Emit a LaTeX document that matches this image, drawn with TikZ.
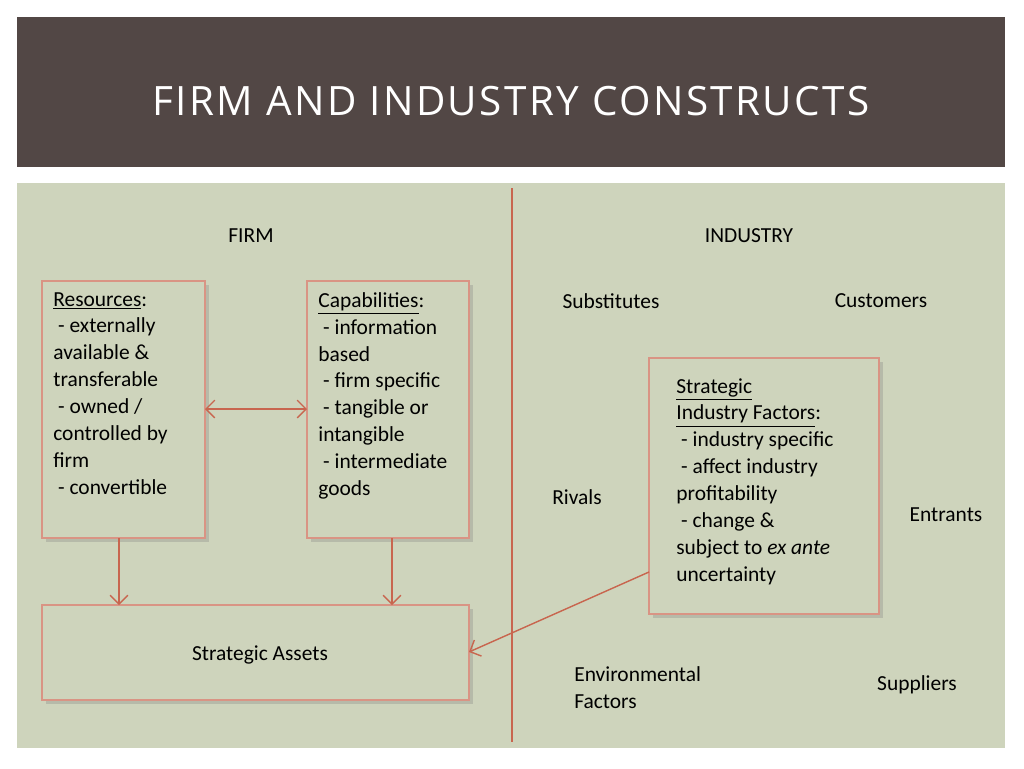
\documentclass[tikz,border=0pt]{standalone}
\usepackage{fontspec}
\setmainfont{Carlito}
\newfontfamily\titlefont{Open Sans}
\usetikzlibrary{arrows.meta,shadows}
\definecolor{headbrown}{HTML}{524745}
\definecolor{panel}{HTML}{CED4BC}
\definecolor{rust}{HTML}{C8664F}
\tikzset{
  fbox/.style={draw=rust!70, fill=panel, thick, drop shadow={opacity=0.3,shadow xshift=2pt,shadow yshift=-2pt}},
  btext/.style={anchor=north west, align=left, inner sep=0pt, font=\fontsize{12.2}{15.3}\selectfont},
  conn/.style={draw=rust, thick, -{Straight Barb[length=5pt]}}
}
\begin{document}
\begin{tikzpicture}[x=0.02cm, y=-0.02cm]
  \useasboundingbox (0,0) rectangle (1024,768);
  \fill[white] (0,0) rectangle (1024,768);
  % header and panel
  \fill[headbrown] (17,17) rectangle (1005,167);
  \node[text=white, font=\titlefont\fontsize{23}{26}\selectfont] (title) at (511,101) {\addfontfeature{LetterSpace=6}FIRM AND INDUSTRY CONSTRUCTS};
  \fill[panel] (17,183) rectangle (1005,748);
  \coordinate (divtop) at (512,188);
  \coordinate (divbot) at (512,742);
  \draw[rust, thick] (divtop) -- (divbot);

  \node[font=\fontsize{12.2}{15}\selectfont] (firm) at (251,236) {FIRM};
  \node[font=\fontsize{12.2}{15}\selectfont] (industry) at (749,236) {INDUSTRY};

  % boxes
  \draw[fbox] (42,281) rectangle (205,538);
  \coordinate (res) at (123.5,409.5);
  \node[btext] (restext) at (53,292) {\underline{Resources}:\\ \ - externally\\available \&\\transferable\\ \ - owned /\\controlled by\\firm\\ \ - convertible};
  \draw[fbox] (307,281) rectangle (469,538);
  \node[btext] (captext) at (318,292) {\underline{Capabilities}:\\ \ - information\\based\\ \ - firm specific\\ \ - tangible or\\intangible\\ \ - intermediate\\goods};
  \draw[fbox] (42,605) rectangle (469,700);
  \node[font=\fontsize{12.2}{15}\selectfont] (assets) at (260,655) {Strategic Assets};
  \draw[fbox] (649,358) rectangle (879,614);
  \node[btext] (siftext) at (676,378) {\underline{Strategic}\\\underline{Industry Factors}:\\ \ - industry specific\\ \ - affect industry\\profitability\\ \ - change \&\\subject to \textit{ex ante}\\uncertainty};

  % industry forces
  \node[font=\fontsize{12.2}{15}\selectfont] (subs) at (611,301) {Substitutes};
  \node[font=\fontsize{12.2}{15}\selectfont] (cust) at (881,301) {Customers};
  \node[font=\fontsize{12.2}{15}\selectfont] (rivals) at (577,497) {Rivals};
  \node[font=\fontsize{12.2}{15}\selectfont] (entr) at (946,515) {Entrants};
  \node[btext] (env) at (574,666) {Environmental\\Factors};
  \node[font=\fontsize{12.2}{15}\selectfont] (supp) at (917,685) {Suppliers};

  % connectors
  \draw[draw=rust, thick, {Straight Barb[length=5pt]}-{Straight Barb[length=5pt]}] (205,409) -- (307,409);
  \draw[conn] (119,538) -- (119,605);
  \draw[conn] (392,538) -- (392,605);
  \draw[conn] (649,572) -- (469,652);
\end{tikzpicture}
\end{document}
